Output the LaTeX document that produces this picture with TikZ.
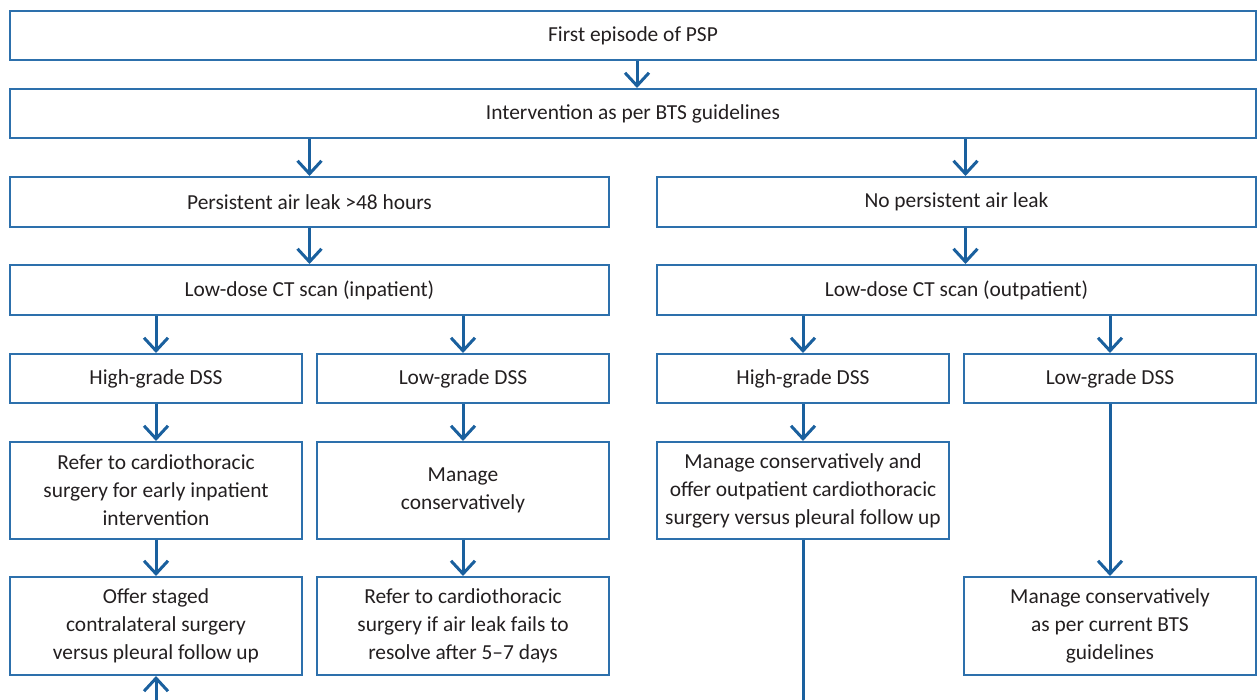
\documentclass[tikz,border=0pt]{standalone}
\usepackage{fontspec}
\setmainfont{Carlito}
\usetikzlibrary{positioning, arrows.meta}

\definecolor{boxblue}{RGB}{45,112,172}
\definecolor{arrowblue}{RGB}{26,96,158}
\definecolor{textgrey}{RGB}{35,31,32}

\begin{document}
\begin{tikzpicture}
	[x=0.5pt, y=-0.5pt, node distance=18.5pt,
	 box/.style={draw=boxblue, line width=1pt, text=textgrey, align=center,
	   inner sep=2pt, font=\fontsize{10.7pt}{14pt}\selectfont},
	 full/.style={box, minimum width=623pt, minimum height=24.5pt},
	 half/.style={box, minimum width=299.5pt, minimum height=25pt},
	 quarter/.style={box, minimum width=146pt, minimum height=24.5pt},
	 tall/.style={box, minimum width=146pt, minimum height=48.5pt},
	 arr/.style={draw=arrowblue, line width=1.5pt, -{Straight Barb[length=6.5pt, width=12pt]}},
	 plain line/.style={draw=arrowblue, line width=1.5pt}]
   \useasboundingbox (0,0) rectangle (1260,700);
   % top of the chart
   \node[full] (psp) at (633,35.5) {First episode of PSP};
   \node[full] (bts) [below=13.5pt of psp] {Intervention as per BTS guidelines};
   % left branch
   \node[half] (leak) [below=of bts.south west, anchor=north west] {Persistent air leak >48 hours};
   \node[half] (ct_in) [below=18pt of leak] {Low-dose CT scan (inpatient)};
   \node[quarter] (high_l) [below=of ct_in.south west, anchor=north west] {High-grade DSS};
   \node[quarter] (low_l) [below=of ct_in.south east, anchor=north east] {Low-grade DSS};
   \node[tall] (refer_l) [below=of high_l] {Refer to cardiothoracic\\surgery for early inpatient\\intervention};
   \node[tall] (manage_l) [below=of low_l] {Manage\\conservatively};
   \node[tall, minimum height=49pt] (offer_l) [below=18pt of refer_l] {Offer staged\\contralateral surgery\\versus pleural follow up};
   \node[tall, minimum height=49pt] (refer_late) [below=18pt of manage_l] {Refer to cardiothoracic\\surgery if air leak fails to\\resolve after 5--7 days};
   % right branch
   \node[half] (no_leak) [below=of bts.south east, anchor=north east] {No persistent air leak};
   \node[half] (ct_out) [below=18pt of no_leak] {Low-dose CT scan (outpatient)};
   \node[quarter] (high_r) [below=of ct_out.south west, anchor=north west] {High-grade DSS};
   \node[quarter] (low_r) [below=of ct_out.south east, anchor=north east] {Low-grade DSS};
   \node[tall] (manage_r) [below=of high_r] {Manage conservatively and\\offer outpatient cardiothoracic\\surgery versus pleural follow up};
   \node[tall, minimum height=49pt] (manage_bts) [below=86pt of low_r] {Manage conservatively\\as per current BTS\\guidelines};
   % loose ends at the bottom edge
   \coordinate[below=12.5pt of offer_l] (in_l);
   \coordinate[below=80.5pt of manage_r] (out_r);
       \path[arr]
    ([xshift=2pt]psp.south) edge ([xshift=2pt]bts.north)
    (bts.south -| leak) edge (leak)
    ([xshift=4.5pt]bts.south -| no_leak) edge ([xshift=4.5pt]no_leak.north)
    (leak) edge (ct_in)
    ([xshift=4.5pt]no_leak.south) edge ([xshift=4.5pt]ct_out.north)
    (ct_in.south -| high_l) edge (high_l)
    (ct_in.south -| low_l) edge (low_l)
    (ct_out.south -| high_r) edge (high_r)
    (ct_out.south -| low_r) edge (low_r)
    (high_l) edge (refer_l)
    (low_l) edge (manage_l)
    (high_r) edge (manage_r)
    (refer_l) edge (offer_l)
    (manage_l) edge (refer_late)
    (low_r) edge (manage_bts)
    (in_l) edge (offer_l);
   \path[plain line] (manage_r) -- (out_r);
\end{tikzpicture}
\end{document}
